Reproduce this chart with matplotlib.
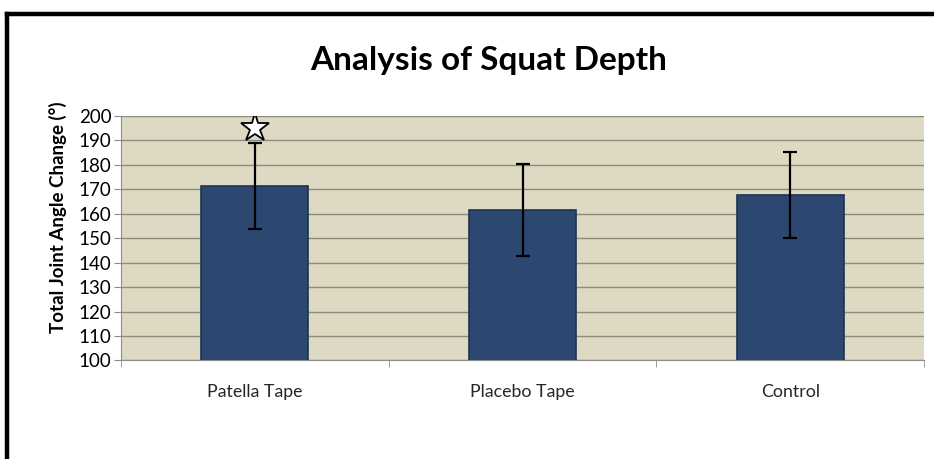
import matplotlib.pyplot as plt
from matplotlib.lines import Line2D

# datos
groups = ["Patella Tape", "Placebo Tape", "Control"]
means = [171.3, 161.6, 167.6]
errors = [17.6, 18.8, 17.7]
star_group = 0
star_value = 195

fig = plt.figure(figsize=(9.34, 4.59), dpi=100)
ax = fig.add_axes([0.1296, 0.2146, 0.8597, 0.5327])

ax.set_facecolor('#DDD9C3')
x = list(range(len(groups)))
ax.bar(x, means, width=0.4, color='#2C4770', edgecolor='#1F3352', linewidth=1.2, zorder=3)
ax.errorbar(x, means, yerr=errors, fmt='none', ecolor='black', elinewidth=1.6,
            capsize=5, capthick=1.6, zorder=4)
ax.plot(star_group, star_value, marker='*', markersize=21, markerfacecolor='white',
        markeredgecolor='black', markeredgewidth=1.3, zorder=5)

ax.set_xlim(-0.5, 2.5)
ax.set_ylim(100, 200)
ax.set_yticks(range(100, 201, 10))
ax.yaxis.grid(True, color='#8C8C7C', linewidth=1.0, zorder=1)
ax.set_axisbelow(True)

ax.set_xticks(x)
ax.set_xticklabels(groups, fontsize=12.8, color='#262626', family='Lato')
ax.set_xticks([-0.5, 0.5, 1.5, 2.5], minor=True)
ax.tick_params(axis='x', which='major', length=0, pad=17)
ax.tick_params(axis='x', which='minor', length=5, color='#8C8C8C')
ax.tick_params(axis='y', length=5, color='#8C8C8C', labelsize=13.5, pad=2)
for lab in ax.get_yticklabels():
    lab.set_family('Lato')

for side in ['top', 'right']:
    ax.spines[side].set_visible(False)
for side in ['left', 'bottom']:
    ax.spines[side].set_color('#8C8C8C')

ax.set_ylabel("Total Joint Angle Change (°)", fontsize=13.5, fontweight='bold',
              family='Lato', labelpad=8, y=0.587)
fig.text(0.523, 0.868, "Analysis of Squat Depth", ha='center', va='center',
         fontsize=24, fontweight='bold', family='Lato')

# marco negro arriba e izquierda
fig.add_artist(Line2D([0.0075, 1.0], [0.97, 0.97], color='black', linewidth=3.2,
                      transform=fig.transFigure))
fig.add_artist(Line2D([0.0075, 0.0075], [0.0, 0.97], color='black', linewidth=3.2,
                      transform=fig.transFigure))

fig.savefig('out.png', dpi=100)
